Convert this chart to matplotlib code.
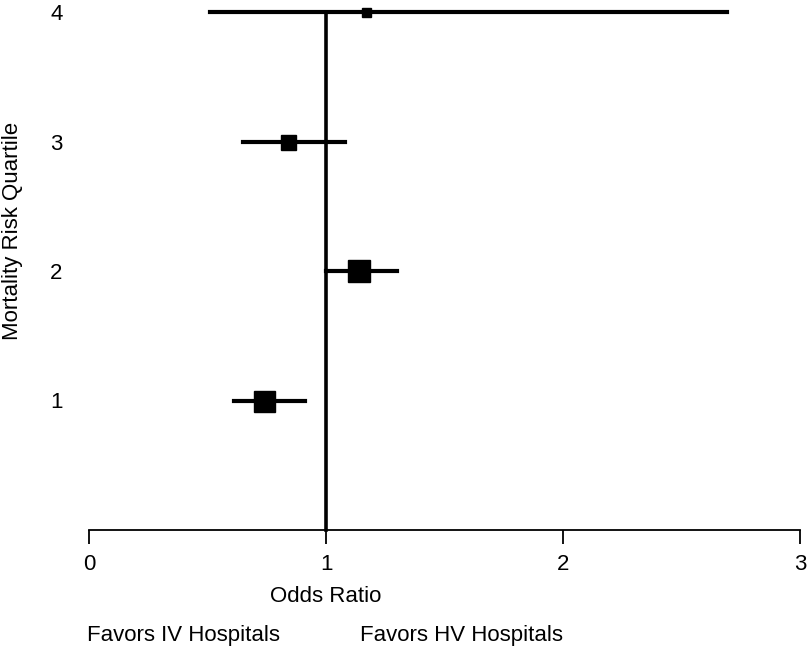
import numpy as np
import matplotlib.pyplot as plt

plt.rcParams['font.family'] = ['Liberation Sans', 'DejaVu Sans']

# forest plot data
quartile = [1, 2, 3, 4]
odds = [0.74, 1.14, 0.84, 1.17]
ci_low = [0.61, 1.00, 0.65, 0.51]
ci_high = [0.91, 1.30, 1.08, 2.69]
box_size = [21, 23, 15, 9]  # box width (weight)

fig = plt.figure(figsize=(8.1, 6.49), dpi=100)
ax = fig.add_axes([89/810, 1 - 530/649, 711/810, (530 - 12)/649])

ax.plot([1, 1], [0, 4], color='black', linewidth=2.6, clip_on=False, zorder=2)
for q, o, lo, hi, s in zip(quartile, odds, ci_low, ci_high, box_size):
    ax.plot([lo, hi], [q, q], color='black', linewidth=3, clip_on=False, zorder=3)
    ax.plot(o, q, marker='s', markersize=s * 0.72, color='black', clip_on=False, zorder=4)

ax.set_xlim(0, 3)
ax.set_ylim(0, 4)
ax.set_xticks([0, 1, 2, 3])
ax.set_yticks(quartile)
ax.set_yticklabels([str(q) for q in quartile])

for sp in ['top', 'right', 'left']:
    ax.spines[sp].set_visible(False)
ax.spines['bottom'].set_linewidth(1.3)
ax.tick_params(axis='x', length=10, width=1.3, labelsize=16, pad=7)
ax.tick_params(axis='y', length=0, labelsize=16, pad=19)

fig.text(13/810, 1 - 231/649, 'Mortality Risk Quartile', rotation=90,
         fontsize=16, ha='center', va='center')
fig.text(326/810, 1 - 597/649, 'Odds Ratio', fontsize=16, ha='center', va='center')
fig.text(87/810, 1 - 636/649, 'Favors IV Hospitals', fontsize=16, ha='left', va='center')
fig.text(360/810, 1 - 636/649, 'Favors HV Hospitals', fontsize=16, ha='left', va='center')

fig.savefig('out.png', dpi=100)
plt.close(fig)
